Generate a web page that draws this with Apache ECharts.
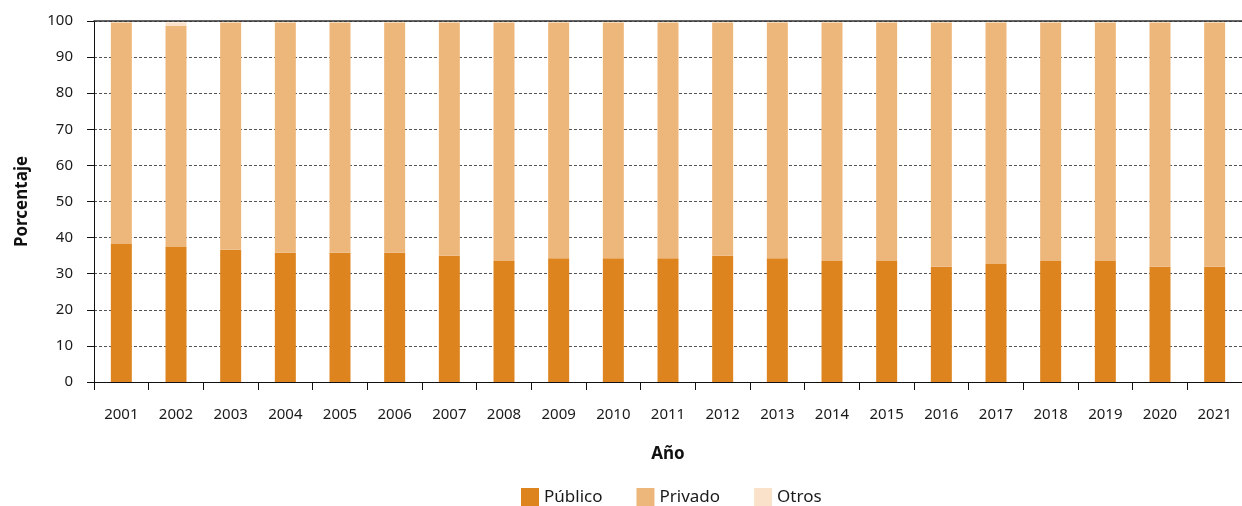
<!DOCTYPE html>
<html>
<head>
<meta charset="utf-8">
<script src="https://cdn.jsdelivr.net/npm/echarts@6/dist/echarts.min.js"></script>
<style>
  html, body { margin: 0; padding: 0; background: #fff; }
  #chart { width: 1242px; height: 506px; }
</style>
</head>
<body>
<div id="chart"></div>
<script>
const years = ['2001', '2002', '2003', '2004', '2005', '2006', '2007', '2008', '2009', '2010', '2011',
  '2012', '2013', '2014', '2015', '2016', '2017', '2018', '2019', '2020', '2021'];
const publico = [38.2, 37.4, 36.6, 35.8, 35.8, 35.8, 35.0, 33.5, 34.3, 34.3, 34.3,
  35.0, 34.3, 33.5, 33.5, 31.9, 32.7, 33.5, 33.5, 31.9, 31.9];
const privado = [61.4, 61.2, 63.0, 63.8, 63.8, 63.8, 64.6, 66.1, 65.3, 65.3, 65.3,
  64.6, 65.3, 66.1, 66.1, 67.7, 66.9, 66.1, 66.1, 67.7, 67.7];
const otros = [0, 1.0, 0, 0, 0, 0, 0, 0, 0, 0, 0,
  0, 0, 0, 0, 0, 0, 0, 0, 0, 0];
const yTicks = [0, 10, 20, 30, 40, 50, 60, 70, 80, 90, 100];

const FONT = 'Noto Sans';
const chart = echarts.init(document.getElementById('chart'));

const barSeries = (name, data, color) => ({
  name: name,
  type: 'bar',
  stack: 'total',
  data: data,
  barWidth: 21,
  itemStyle: { color: color },
  emphasis: { disabled: true }
});

chart.setOption({
  backgroundColor: '#fff',
  animation: false,
  textStyle: { fontFamily: FONT },
  // plot runs a bit past the right edge, like the original
  grid: { left: 94, width: 1156, top: 21, bottom: 124, containLabel: false },
  legend: {
    top: 483,
    left: 516,
    itemWidth: 18,
    itemHeight: 18,
    itemGap: 34,
    icon: 'rect',
    textStyle: { fontFamily: FONT, fontSize: 17, color: '#1a1a1a' },
    data: ['Público', 'Privado', 'Otros']
  },
  xAxis: [{
    type: 'category',
    data: years,
    name: 'Año',
    nameLocation: 'middle',
    nameGap: 64,
    nameTextStyle: { fontFamily: FONT, fontSize: 17, fontWeight: 'bold', color: '#111' },
    axisLine: { lineStyle: { color: '#111', width: 1 } },
    axisTick: { show: true, length: 8, alignWithLabel: false, lineStyle: { color: '#111' } },
    axisLabel: { margin: 25, fontFamily: FONT, fontSize: 15, color: '#1a1a1a' }
  }, {
    type: 'category',
    data: years,
    position: 'top',
    axisLine: { show: true, lineStyle: { color: '#333', width: 1.5 } },
    axisTick: { show: false },
    axisLabel: { show: false }
  }],
  yAxis: {
    type: 'value',
    min: 0,
    max: 100,
    interval: 10,
    name: 'Porcentaje',
    nameLocation: 'middle',
    nameGap: 63,
    nameTextStyle: { fontFamily: FONT, fontSize: 17, fontWeight: 'bold', color: '#111' },
    axisLine: { show: true, lineStyle: { color: '#111', width: 1 } },
    axisTick: { show: true, length: 7, lineStyle: { color: '#111' } },
    axisLabel: {
      margin: 21,
      fontFamily: FONT,
      fontSize: 15,
      color: '#1a1a1a',
      formatter: v => (yTicks.includes(v) ? String(v) : '')
    },
    splitLine: { show: true, lineStyle: { color: '#555', type: [3, 2], width: 1 } }
  },
  series: [
    barSeries('Público', publico, '#de841e'),
    barSeries('Privado', privado, '#edb77b'),
    barSeries('Otros', otros, '#f9e2c9')
  ]
});
</script>
</body>
</html>
